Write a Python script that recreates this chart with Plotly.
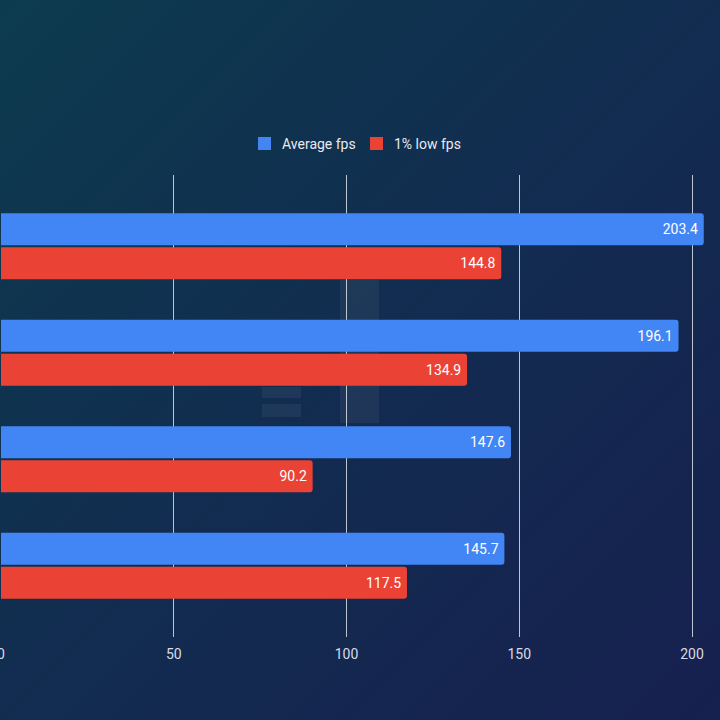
import base64
import plotly.graph_objects as go

categories = ["System A", "System B", "System C", "System D"]
avg_fps = [203.4, 196.1, 147.6, 145.7]
low_fps = [144.8, 134.9, 90.2, 117.5]
series_names = ["Average fps", "1% low fps"]
series_colors = ["#4285f4", "#ea4335"]
x_ticks = [0, 50, 100, 150, 200]

W, H = 720, 720
ML, MR, MT, MB = 1, 0, 175, 83
PW, PH = W - ML - MR, H - MT - MB

svg = f'''<svg xmlns="http://www.w3.org/2000/svg" width="{W}" height="{H}" viewBox="0 0 {W} {H}" preserveAspectRatio="none">
<defs><linearGradient id="g" x1="0" y1="0" x2="1" y2="1">
<stop offset="0" stop-color="#0c3b4e"/><stop offset="0.5" stop-color="#122c50"/><stop offset="1" stop-color="#17204f"/>
</linearGradient></defs><rect width="{W}" height="{H}" fill="url(#g)"/></svg>'''
bg_uri = "data:image/svg+xml;base64," + base64.b64encode(svg.encode()).decode()

def px(x):
    return (x - ML) / PW

def py(y):
    return 1 - (y - MT) / PH

fig = go.Figure()
for name, vals, col in zip(series_names, [avg_fps, low_fps], series_colors):
    fig.add_trace(go.Bar(
        y=categories, x=vals, name=name, orientation="h",
        marker=dict(color=col, line=dict(width=0)),
        text=[f"{v:.1f}\u2009" for v in vals], textposition="inside",
        insidetextanchor="end", textfont=dict(color="#ffffff", size=14),
        showlegend=False,
    ))

shapes = []
for (x0, y0, x1, y1) in [(340, 280, 379, 423), (262, 387, 301, 398), (262, 404, 301, 417)]:
    shapes.append(dict(type="rect", xref="paper", yref="paper",
                       x0=px(x0), x1=px(x1), y0=py(y1), y1=py(y0),
                       fillcolor="rgba(255,255,255,0.055)", line=dict(width=0),
                       layer="below"))

# manual legend (square swatches + labels)
annotations = []
legend_items = [(258, 280), (370, 392)]
for (sx, tx), name, col in zip(legend_items, series_names, series_colors):
    shapes.append(dict(type="rect", xref="paper", yref="paper",
                       x0=px(sx), x1=px(sx + 13), y0=py(150), y1=py(137),
                       fillcolor=col, line=dict(width=0), layer="above"))
    annotations.append(dict(text=name, xref="paper", yref="paper",
                            x=px(tx), y=py(143.5), xanchor="left", yanchor="middle",
                            showarrow=False, font=dict(size=14, color="#e8eaef")))

fig.update_layout(
    width=W, height=H,
    margin=dict(l=ML, r=MR, t=MT, b=MB, pad=0, autoexpand=False),
    paper_bgcolor="#122c50", plot_bgcolor="rgba(0,0,0,0)",
    font=dict(family="Roboto, sans-serif", color="#e6e9ef", size=13),
    barmode="group", bargap=0.36, bargroupgap=0.06, barcornerradius=3,
    showlegend=False,
    images=[dict(source=bg_uri, xref="paper", yref="paper",
                 x=-ML / PW, y=1 + MT / PH, sizex=W / PW, sizey=H / PH,
                 xanchor="left", yanchor="top", sizing="stretch", layer="below")],
    shapes=shapes,
    annotations=annotations,
    xaxis=dict(range=[0, 208.1], tickvals=x_ticks, showgrid=True,
               gridcolor="rgba(220,225,232,0.85)", gridwidth=1, zeroline=False,
               showline=False, ticks="", ticklabeloverflow="allow",
               automargin=False, ticklabelstandoff=7,
               tickfont=dict(size=14, color="#d8dce6")),
    yaxis=dict(type="category", range=[3.67, -0.67], showgrid=False,
               showticklabels=False, ticks="", zeroline=False, showline=False,
               automargin=False),
)

fig.write_html("out.html")
